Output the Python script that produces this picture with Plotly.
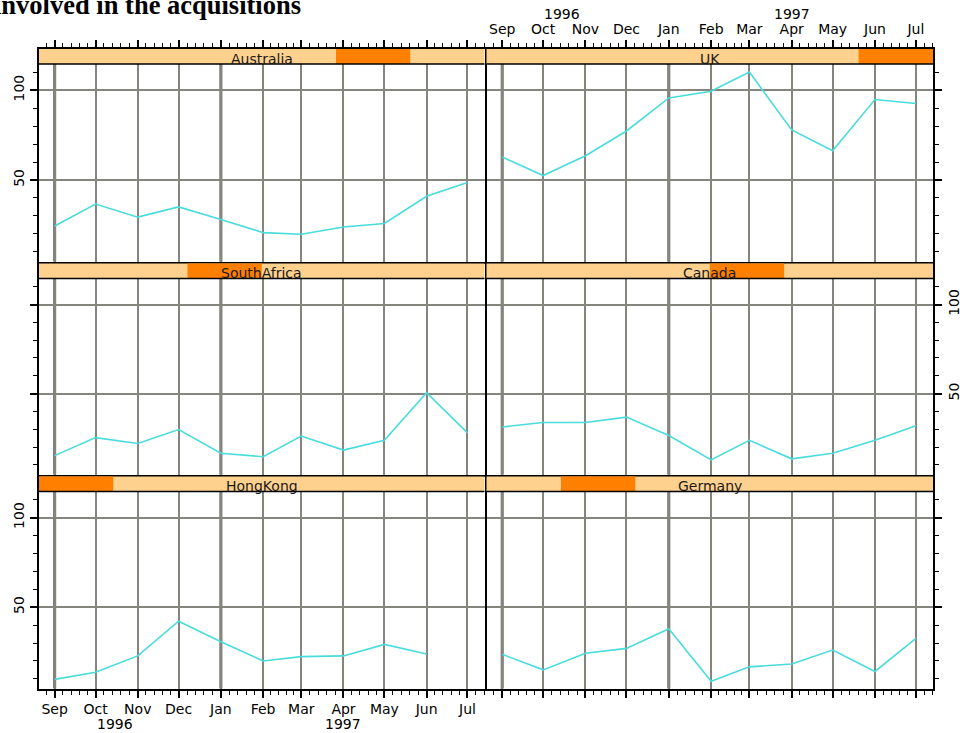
import calendar
import datetime as dt

import plotly.graph_objects as go

# ---- data -----------------------------------------------------------------
months = ["1996-09-01", "1996-10-01", "1996-11-01", "1996-12-01", "1997-01-01",
          "1997-02-01", "1997-03-01", "1997-04-01", "1997-05-01", "1997-06-01",
          "1997-07-01"]
month_labels = ["Sep", "Oct", "Nov", "Dec", "Jan", "Feb", "Mar", "Apr", "May",
                "Jun", "Jul"]
year_labels = ["1996", "1997"]
year_label_dates = ["1996-10-15", "1997-04-01"]

countries = ["HongKong", "Germany", "SouthAfrica", "Canada", "Australia", "UK"]

hong_kong = [9.7, 13.7, 22.8, 42.2, 30.7, 20.0, 22.4, 22.8, 29.2, 23.9, None]
germany = [23.7, 15.0, 24.3, 27.0, 37.9, 8.6, 16.7, 18.3, 26.1, 14.1, 32.6]
south_africa = [15.2, 25.3, 22.0, 29.8, 16.5, 14.6, 26.2, 18.3, 23.8, 50.5, 28.0]
canada = [31.3, 33.8, 33.8, 36.8, 26.5, 12.8, 23.8, 13.4, 16.5, 23.8, 32.0]
australia = [24.4, 36.6, 29.3, 35.0, 28.0, 20.7, 19.8, 23.8, 25.8, 40.9, 48.6]
uk = [62.8, 52.5, 63.5, 77.3, 95.7, 99.4, 110.1, 77.9, 66.3, 94.8, 92.6]

series = [hong_kong, germany, south_africa, canada, australia, uk]

# ---- geometry / style -----------------------------------------------------
W, H = 962, 733
COLS = [(39, 484.5), (486.5, 933)]          # panel columns (px from left)
ROWS = [(49, 261.5), (263.5, 474.5), (476.5, 688.5)]   # strip top .. plot bottom
STRIP_H = 15.0
Y_LO, Y_HI = 4.6, 114.6
X_RANGE = ["1996-08-20 12:00", "1997-07-13 12:00"]

FONT = "DejaVu Sans"
LINE_COL = "#48dcdc"
GRID_COL = "#85857e"
STRIP_LIGHT = "#ffd18f"
STRIP_DARK = "#ff8000"
AXIS_W = 2


def minor_dates():
    out = []
    for y, m in [(1996, 8), (1996, 9), (1996, 10), (1996, 11), (1996, 12),
                 (1997, 1), (1997, 2), (1997, 3), (1997, 4), (1997, 5),
                 (1997, 6), (1997, 7)]:
        start = dt.datetime(y, m, 1)
        n = calendar.monthrange(y, m)[1]
        for k in range(5):
            out.append((start + dt.timedelta(days=n * k / 5)).strftime("%Y-%m-%d %H:%M"))
    return out


MINOR_X = minor_dates()

fig = go.Figure()
layout = dict(
    width=W, height=H, margin=dict(l=0, r=0, t=0, b=0, autoexpand=False),
    paper_bgcolor="white", plot_bgcolor="white", showlegend=False,
    shapes=[], annotations=[],
)

for i, (name, vals) in enumerate(zip(countries, series)):
    k = i + 1
    sfx = "" if k == 1 else str(k)
    col = i % 2
    row_from_top = 2 - i // 2
    x0p, x1p = COLS[col]
    top, bot = ROWS[row_from_top]
    row_h = bot - top
    plot_h = row_h - STRIP_H
    y_top = Y_HI + STRIP_H * (Y_HI - Y_LO) / plot_h   # extra room for the strip

    fig.add_trace(go.Scatter(
        x=months, y=vals, mode="lines", name=name,
        line=dict(color=LINE_COL, width=1.6),
        xaxis="x" + sfx, yaxis="y" + sfx, connectgaps=False,
    ))

    if row_from_top == 0:
        xside, xticks, xlabels = "top", "outside", col == 1
    elif row_from_top == 2:
        xside, xticks, xlabels = "bottom", "outside", col == 0
    else:
        xside, xticks, xlabels = "bottom", "", False

    layout["xaxis" + sfx] = dict(
        domain=[x0p / W, x1p / W], anchor="y" + sfx, type="date",
        range=X_RANGE, side=xside,
        tickmode="array", tickvals=months, ticktext=month_labels,
        showticklabels=xlabels, ticks=xticks, ticklen=7, tickwidth=1.5,
        tickcolor="black", tickfont=dict(family=FONT, size=14, color="black"),
        showgrid=True, gridcolor=GRID_COL, gridwidth=2, zeroline=False,
        showline=True, linecolor="black", linewidth=AXIS_W, mirror=True,
        minor=dict(tickmode="array", tickvals=MINOR_X, ticks=xticks,
                   ticklen=4, tickwidth=1.2, tickcolor="black", showgrid=False),
    )

    yside = "left" if col == 0 else "right"
    ylabels = (col == 0 and row_from_top != 1) or (col == 1 and row_from_top == 1)
    layout["yaxis" + sfx] = dict(
        domain=[1 - bot / H, 1 - top / H], anchor="x" + sfx,
        range=[Y_LO, y_top], side=yside,
        tickmode="array", tickvals=[50, 100], ticktext=["50", "100"],
        tickangle=-90, showticklabels=ylabels, ticks="outside", ticklen=7,
        tickwidth=1.5, tickcolor="black",
        tickfont=dict(family=FONT, size=14, color="black"),
        showgrid=True, gridcolor=GRID_COL, gridwidth=2, zeroline=False,
        showline=True, linecolor="black", linewidth=AXIS_W, mirror=True,
        minor=dict(tickmode="array", tickvals=list(range(10, 111, 10)),
                   ticks="outside", ticklen=4, tickwidth=1.2,
                   tickcolor="black", showgrid=False),
    )

    xd, yd = "x" + sfx + " domain", "y" + sfx + " domain"
    sb = plot_h / row_h

    # heavier reference lines at the season start and the new year
    for d in ("1996-09-01", "1997-01-01"):
        layout["shapes"].append(dict(
            type="line", xref="x" + sfx, yref=yd, x0=d, x1=d, y0=0, y1=sb,
            line=dict(color="#66665f", width=3), layer="below"))

    # strip: light background, dark block marking the factor level, border
    layout["shapes"].append(dict(
        type="rect", xref=xd, yref=yd, x0=0, x1=1, y0=sb, y1=1,
        fillcolor=STRIP_LIGHT, line=dict(width=0), layer="above"))
    layout["shapes"].append(dict(
        type="rect", xref=xd, yref=yd, x0=i / len(countries),
        x1=(i + 1) / len(countries), y0=sb, y1=1,
        fillcolor=STRIP_DARK, line=dict(width=0), layer="above"))
    layout["shapes"].append(dict(
        type="line", xref=xd, yref=yd, x0=0, x1=1, y0=sb, y1=sb,
        line=dict(color="black", width=1.5), layer="above"))
    layout["annotations"].append(dict(
        xref=xd, yref=yd, x=0.5, y=(plot_h + STRIP_H / 2) / row_h,
        text=name, showarrow=False, xanchor="center", yanchor="middle",
        yshift=-2, font=dict(family=FONT, size=14, color="#1a1a1a")))

# year labels under / above the month labels
for lab, d in zip(year_labels, year_label_dates):
    layout["annotations"].append(dict(
        xref="x", yref="paper", x=d, y=1 - 723.5 / H, text=lab, showarrow=False,
        xanchor="center", yanchor="middle",
        font=dict(family=FONT, size=14, color="black")))
    layout["annotations"].append(dict(
        xref="x6", yref="paper", x=d, y=1 - 14 / H, text=lab, showarrow=False,
        xanchor="center", yanchor="middle",
        font=dict(family=FONT, size=14, color="black")))

layout["annotations"].append(dict(
    xref="paper", yref="paper", x=-8 / W, y=1 - 5 / H,
    text="<b>involved in the acquisitions</b>", showarrow=False,
    xanchor="left", yanchor="middle",
    font=dict(family="Liberation Serif", size=26.5, color="black")))

fig.update_layout(**layout)
fig.write_html("out.html")
